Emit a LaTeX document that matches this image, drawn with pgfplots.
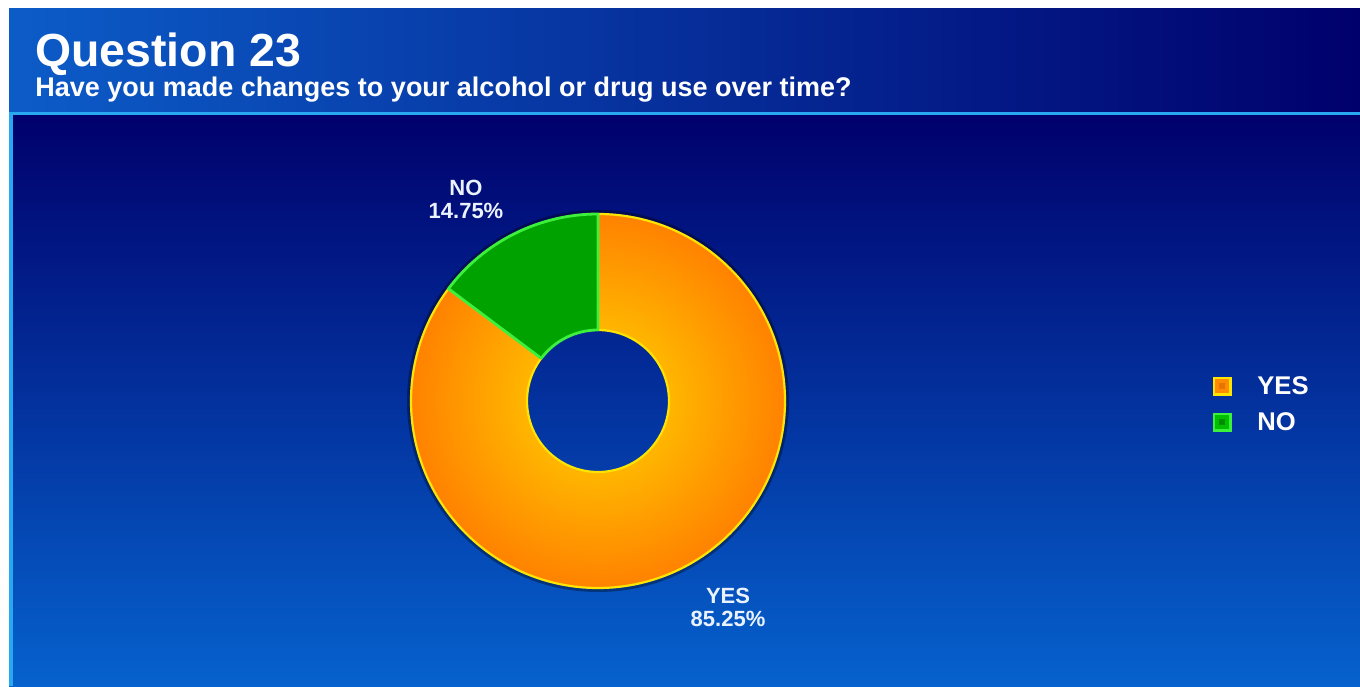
\documentclass[border=0pt]{standalone}
\usepackage{pgfplots}
\pgfplotsset{compat=1.18}
\usepackage{pgfplotstable}
\usepackage{fontspec}
\setmainfont{Liberation Sans}

\definecolor{hdrL}{RGB}{12,92,200}
\definecolor{hdrM}{RGB}{8,74,186}
\definecolor{hdrR}{RGB}{0,0,108}
\definecolor{mainT}{RGB}{0,0,108}
\definecolor{mainM}{RGB}{4,46,156}
\definecolor{mainB}{RGB}{6,98,206}
\definecolor{cyanL}{RGB}{40,168,240}
\definecolor{orIn}{RGB}{255,182,0}
\definecolor{orOut}{RGB}{255,130,0}
\definecolor{orEdge}{RGB}{255,228,0}
\definecolor{grFill}{RGB}{0,162,0}
\definecolor{grEdge}{RGB}{60,240,60}
\definecolor{lblTxt}{RGB}{235,242,255}

\pgfdeclareradialshading{orangedonut}{\pgfpoint{0bp}{0bp}}{%
  color(0bp)=(orIn); color(9.5bp)=(orIn); color(25bp)=(orOut); color(50bp)=(orOut)}

\pgfplotstableread{
label value
YES 85.25
NO 14.75
}\piedata

\begin{document}
\begin{tikzpicture}[x=0.5pt,y=0.5pt]
% page and background panels (1 unit = 1 px of the reference)
\fill[white] (0,0) rectangle (1360,686);
\shade[left color=hdrL, middle color=hdrM, right color=hdrR] (9,574) rectangle (1360,677);
\shade[top color=mainT, middle color=mainM, bottom color=mainB] (9,0) rectangle (1360,572);
\fill[cyanL] (9,570.5) rectangle (1360,574);
\fill[cyanL] (9,0) rectangle (13,572);

% titles
\node[anchor=base west, inner sep=0pt, text=white, font=\fontsize{23.2pt}{26pt}\selectfont\bfseries] at (35,619) {Question 23};
\node[anchor=base west, inner sep=0pt, text=white, font=\fontsize{13.5pt}{15pt}\selectfont\bfseries] at (35,589) {Have you made changes to your alcohol or drug use over time?};

% angles from the data (start at 12 o'clock, clockwise)
\pgfplotstablegetelem{0}{value}\of\piedata
\pgfmathsetmacro\angA{90}
\pgfmathsetmacro\angB{90-3.6*\pgfplotsretval}
\pgfplotstablegetelem{1}{value}\of\piedata
\pgfmathsetmacro\angC{\angB-3.6*\pgfplotsretval}

\begin{axis}[
  at={(299pt,142.5pt)}, anchor=center,
  scale only axis, width=187pt, height=187pt,
  xmin=-93.5, xmax=93.5, ymin=-93.5, ymax=93.5,
  hide axis, clip=false,
  legend style={at={(2.142,0.489)}, anchor=west, draw=none, fill=none,
    inner sep=0pt, row sep=7.5pt,
    font=\fontsize{12.8pt}{14pt}\selectfont\bfseries, text=white,
    nodes={inner sep=0pt}},
  legend cell align=left,
]
% shadow ring
\draw[black, opacity=0.35, line width=1.4pt] (axis cs:0,0) circle[radius=94.8pt];
% YES sector
\shade[shading=orangedonut]
  (axis cs:0,0) ++(\angA:93.5pt) arc[start angle=\angA, end angle=\angB, radius=93.5pt]
  -- ([shift={(\angB:35.5pt)}]axis cs:0,0) arc[start angle=\angB, end angle=\angA, radius=35.5pt] -- cycle;
\draw[orEdge, line width=1.1pt, line join=round]
  (axis cs:0,0) ++(\angA:93.5pt) arc[start angle=\angA, end angle=\angB, radius=93.5pt]
  -- ([shift={(\angB:35.5pt)}]axis cs:0,0) arc[start angle=\angB, end angle=\angA, radius=35.5pt] -- cycle;
% NO sector
\fill[grFill]
  (axis cs:0,0) ++(\angB:93.5pt) arc[start angle=\angB, end angle=\angC, radius=93.5pt]
  -- ([shift={(\angC:35.5pt)}]axis cs:0,0) arc[start angle=\angC, end angle=\angB, radius=35.5pt] -- cycle;
\draw[grEdge, line width=1.4pt, line join=round]
  (axis cs:0,0) ++(\angB:93.5pt) arc[start angle=\angB, end angle=\angC, radius=93.5pt]
  -- ([shift={(\angC:35.5pt)}]axis cs:0,0) arc[start angle=\angC, end angle=\angB, radius=35.5pt] -- cycle;

% slice labels
\node[align=center, text=lblTxt, inner sep=0pt, font=\fontsize{11pt}{11.5pt}\selectfont\bfseries] at (axis cs:-66,101) {NO\\14.75\%};
\node[align=center, text=lblTxt, inner sep=0pt, font=\fontsize{11pt}{11.5pt}\selectfont\bfseries] at (axis cs:65,-103) {YES\\85.25\%};

% legend
\addlegendimage{legend image code/.code={%
  \fill[orEdge] (0pt,-3.9pt) rectangle (9pt,5.1pt);
  \fill[orange!90!yellow] (1.1pt,-2.8pt) rectangle (7.9pt,4pt);
  \fill[orOut!90!black] (3.2pt,-0.7pt) rectangle (5.8pt,1.9pt);
  \path (22pt,0.6pt);}}
\addlegendentry{YES}
\addlegendimage{legend image code/.code={%
  \fill[grEdge] (0pt,-3.9pt) rectangle (9pt,5.1pt);
  \fill[green!75!black] (1.1pt,-2.8pt) rectangle (7.9pt,4pt);
  \fill[green!55!black] (3.2pt,-0.7pt) rectangle (5.8pt,1.9pt);
  \path (22pt,0.6pt);}}
\addlegendentry{NO}
\end{axis}
\end{tikzpicture}
\end{document}
